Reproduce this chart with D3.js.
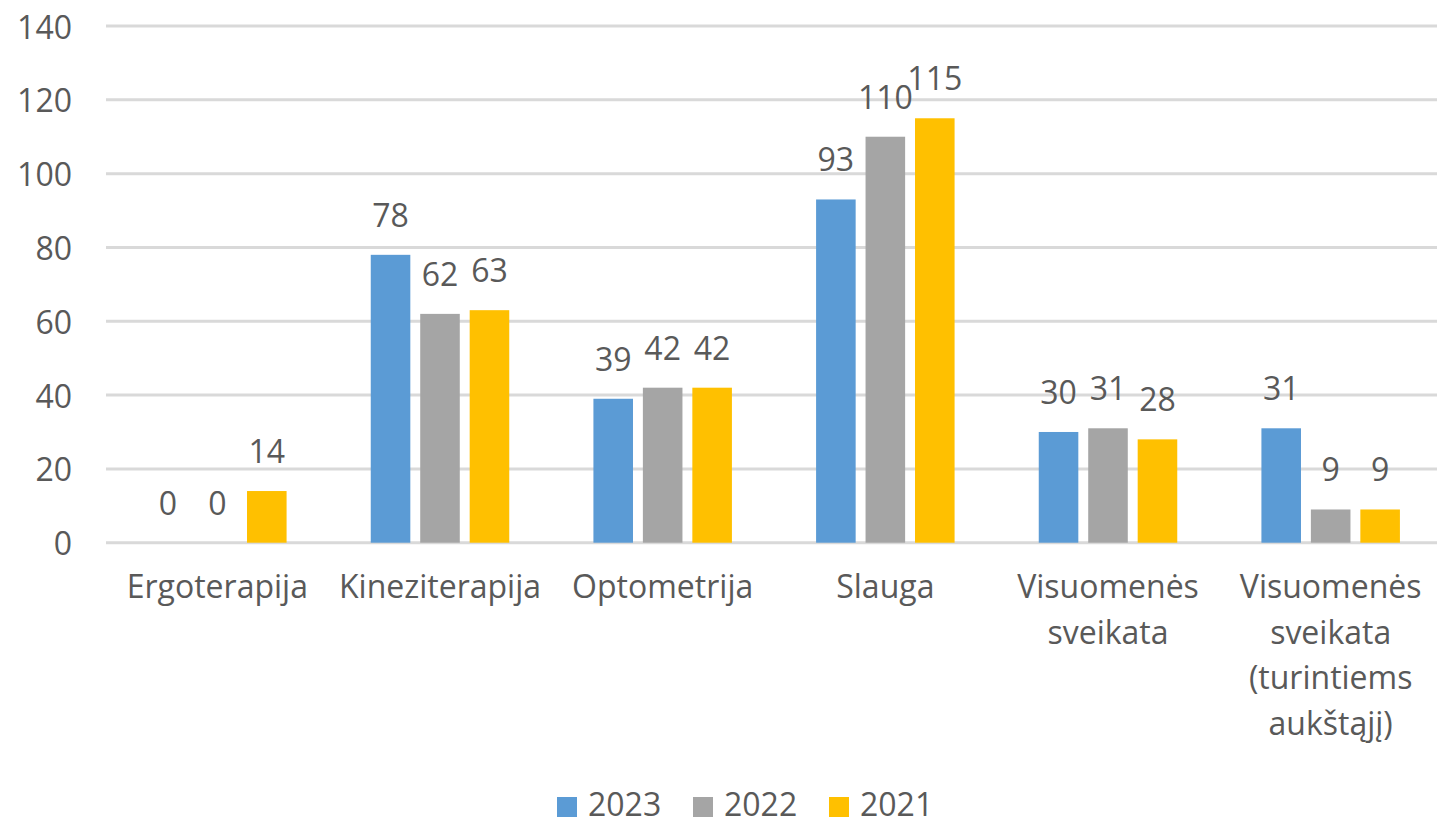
<!DOCTYPE html>
<html>
<head>
<meta charset="utf-8">
<title>Studentų skaičius pagal programas</title>
<script src="https://d3js.org/d3.v7.min.js"></script>
<style>
    body { margin: 0; background: #fff; }
    svg text { font-family: 'Open Sans', sans-serif; fill: #595959; }
</style>
</head>
<body>
<svg id="chart"></svg>
<script>
// data
const categories = [
    ["Ergoterapija"],
    ["Kineziterapija"],
    ["Optometrija"],
    ["Slauga"],
    ["Visuomenės", "sveikata"],
    ["Visuomenės", "sveikata", "(turintiems", "aukštąjį)"]
];
const years = ["2023", "2022", "2021"];
const values2023 = [0, 78, 39, 93, 30, 31];
const values2022 = [0, 62, 42, 110, 31, 9];
const values2021 = [14, 63, 42, 115, 28, 9];
const yTicks = [0, 20, 40, 60, 80, 100, 120, 140];
const colors = ["#5b9bd5", "#a5a5a5", "#ffc000"];

const series = [values2023, values2022, values2021];
const width = 1437, height = 825;
const svg = d3.select("#chart").attr("width", width).attr("height", height);

const catKeys = categories.map(c => c.join(" "));
const x0 = d3.scaleBand().domain(catKeys).range([106, 1442])
    .paddingInner(0.378).paddingOuter(0.189);
const x1 = d3.scaleBand().domain(years).range([0, x0.bandwidth()]).paddingInner(0.2);
const y = d3.scaleLinear().domain([0, 140]).range([542.7, 26]);

// gridlines
svg.append("g").selectAll("line")
    .data(yTicks).join("line")
    .attr("x1", 106).attr("x2", width)
    .attr("y1", d => y(d)).attr("y2", d => y(d))
    .attr("stroke", "#d9d9d9").attr("stroke-width", 3);

// y axis labels
svg.append("g").selectAll("text")
    .data(yTicks).join("text")
    .attr("x", 72).attr("y", d => y(d))
    .attr("text-anchor", "end").attr("dominant-baseline", "central")
    .style("font-size", "32px")
    .text(d => d);

// bars + labels
const groups = svg.append("g").selectAll("g")
    .data(catKeys).join("g")
    .attr("transform", d => `translate(${x0(d)},0)`);

const cells = groups.selectAll("g")
    .data((d, i) => years.map((yr, j) => ({ year: yr, value: series[j][i], color: colors[j] })))
    .join("g");

cells.append("rect")
    .attr("x", d => x1(d.year))
    .attr("width", x1.bandwidth())
    .attr("y", d => y(d.value))
    .attr("height", d => y(0) - y(d.value))
    .attr("fill", d => d.color);

cells.append("text")
    .attr("x", d => x1(d.year) + x1.bandwidth() / 2)
    .attr("y", d => y(d.value) - 28)
    .attr("text-anchor", "middle")
    .style("font-size", "32px")
    .text(d => d.value);

// category labels
const catLabels = svg.append("g").selectAll("text")
    .data(categories).join("text")
    .attr("x", (d, i) => x0(catKeys[i]) + x0.bandwidth() / 2)
    .attr("y", 598)
    .attr("text-anchor", "middle")
    .style("font-size", "32px");
catLabels.selectAll("tspan")
    .data(d => d).join("tspan")
    .attr("x", function () { return d3.select(this.parentNode).attr("x"); })
    .attr("dy", (d, i) => i === 0 ? 0 : 45.5)
    .text(d => d);

// legend
const legend = svg.append("g").attr("transform", "translate(557,0)");
const items = legend.selectAll("g")
    .data(years).join("g")
    .attr("transform", (d, i) => `translate(${i * 136},0)`);
items.append("rect")
    .attr("x", 0).attr("y", 797).attr("width", 20).attr("height", 20)
    .attr("fill", (d, i) => colors[i]);
items.append("text")
    .attr("x", 31).attr("y", 816)
    .style("font-size", "32px")
    .text(d => d);
</script>
</body>
</html>
